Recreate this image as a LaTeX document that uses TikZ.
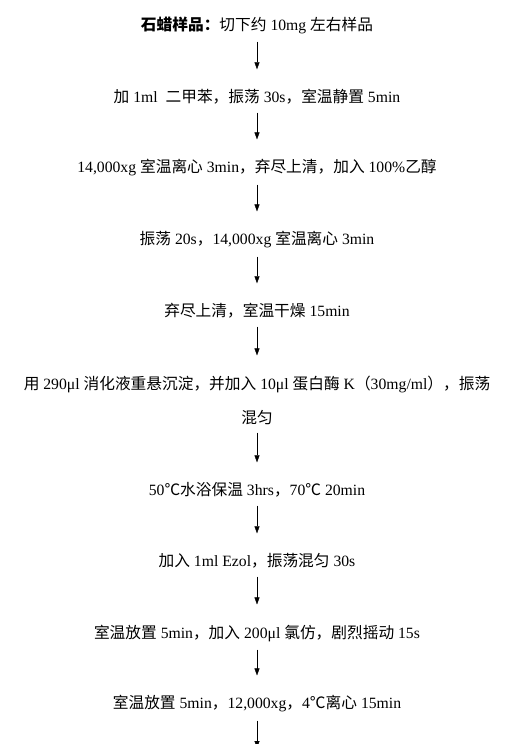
\documentclass[tikz,border=0pt]{standalone}
\usepackage{fontspec}
\setmainfont{Liberation Serif}
\newfontfamily\cjk{Noto Sans CJK SC}
\newcommand{\zh}[1]{{\cjk #1}}
\usepackage{tikz}
\usetikzlibrary{arrows.meta, positioning, calc}

\begin{document}
\begin{tikzpicture}[
    x=1pt, y=-1pt,
    every node/.style={align=center, font=\fontsize{15.7}{34}\selectfont, inner sep=0pt},
    stepbox/.style={text=black},
    flow/.style={-{Triangle[length=7pt,width=5pt]}, thin, shorten <=8pt, shorten >=20pt}
]
\useasboundingbox (0,0) rectangle (531,744);
\node[stepbox] (s1) at (257,25) {\zh{\bfseries 石蜡样品：}\zh{切下约} 10mg \zh{左右样品}};
\node[stepbox] (s2) at (257,97) {\zh{加} 1ml\ \ \zh{二甲苯，振荡} 30s\zh{，室温静置} 5min};
\node[stepbox] (s3) at (257,168) {14,000xg \zh{室温离心} 3min\zh{，弃尽上清，加入} 100\%\zh{乙醇}};
\node[stepbox] (s4) at (257,240) {\zh{振荡} 20s\zh{，}14,000xg \zh{室温离心} 3min};
\node[stepbox] (s5) at (257,311) {\zh{弃尽上清，室温干燥} 15min};
\node[stepbox] (s6) at (257,400) {\zh{用} 290μl \zh{消化液重悬沉淀，并加入} 10μl \zh{蛋白酶} K\zh{（}30mg/ml\zh{），振荡}\\\zh{混匀}};
\node[stepbox] (s7) at (257,490) {50\zh{℃水浴保温} 3hrs\zh{，}70\zh{℃} 20min};
\node[stepbox] (s8) at (257,561) {\zh{加入} 1ml Ezol\zh{，振荡混匀} 30s};
\node[stepbox] (s9) at (257,633) {\zh{室温放置} 5min\zh{，加入} 200μl \zh{氯仿，剧烈摇动} 15s};
\node[stepbox] (s10) at (257,704) {\zh{室温放置} 5min\zh{，}12,000xg\zh{，}4\zh{℃离心} 15min};
\coordinate (tail) at (257,768);

\draw[flow] (s1) -- (s2);
\draw[flow] (s2) -- (s3);
\draw[flow] (s3) -- (s4);
\draw[flow] (s4) -- (s5);
\draw[flow] (s5) -- (s6);
\draw[flow] (s6) -- (s7);
\draw[flow] (s7) -- (s8);
\draw[flow] (s8) -- (s9);
\draw[flow] (s9) -- (s10);
\draw[flow] (s10) -- (tail);
\end{tikzpicture}
\end{document}
